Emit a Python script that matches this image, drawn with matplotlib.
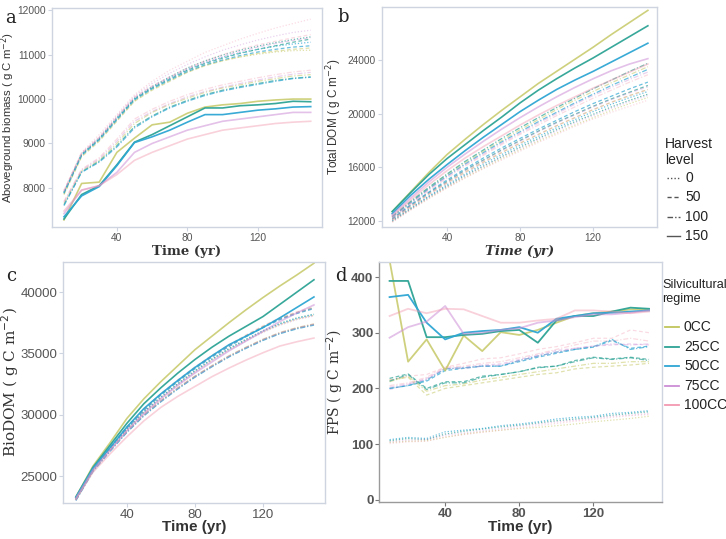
import matplotlib
matplotlib.use("Agg")
import matplotlib.pyplot as plt
from matplotlib.lines import Line2D

# ---------------- data ----------------
time = [10, 20, 30, 40, 50, 60, 70, 80, 90, 100, 110, 120, 130, 140, 150]
regimes = ["0CC", "25CC", "50CC", "75CC", "100CC"]
harvest_levels = ["0", "50", "100", "150"]

# Panel a: Aboveground biomass (rows: 0CC, 25CC, 50CC, 75CC, 100CC)
agb_h0 = [
    [7860, 8720, 9080, 9520, 9960, 10220, 10420, 10610, 10760, 10870, 10950, 11010, 11060, 11090, 11100],
    [7900, 8760, 9120, 9580, 10020, 10280, 10500, 10700, 10860, 10990, 11100, 11190, 11270, 11340, 11400],
    [7880, 8740, 9100, 9560, 10000, 10260, 10470, 10660, 10820, 10940, 11040, 11120, 11190, 11240, 11280],
    [7930, 8780, 9150, 9620, 10070, 10350, 10580, 10780, 10950, 11100, 11220, 11330, 11420, 11500, 11550],
    [7950, 8800, 9200, 9650, 10100, 10400, 10650, 10850, 11050, 11200, 11350, 11480, 11600, 11700, 11800],
]
agb_h50 = [
    [7850, 8700, 9050, 9500, 9950, 10200, 10400, 10600, 10750, 10860, 10950, 11030, 11080, 11120, 11150],
    [7900, 8750, 9100, 9550, 10000, 10250, 10450, 10650, 10800, 10920, 11030, 11120, 11200, 11280, 11350],
    [7880, 8730, 9080, 9530, 9980, 10230, 10430, 10620, 10770, 10880, 10980, 11060, 11120, 11170, 11200],
    [7920, 8770, 9120, 9580, 10030, 10280, 10480, 10680, 10830, 10960, 11070, 11170, 11250, 11320, 11380],
    [7940, 8790, 9140, 9600, 10050, 10300, 10500, 10700, 10860, 11000, 11120, 11220, 11300, 11380, 11450],
]
agb_h100 = [
    [7650, 8380, 8620, 9000, 9450, 9700, 9880, 10020, 10150, 10250, 10320, 10400, 10460, 10520, 10550],
    [7620, 8360, 8600, 8950, 9380, 9620, 9820, 9970, 10100, 10200, 10280, 10350, 10420, 10470, 10500],
    [7600, 8350, 8580, 8920, 9350, 9600, 9800, 9950, 10080, 10180, 10260, 10330, 10400, 10460, 10490],
    [7680, 8400, 8650, 9050, 9500, 9720, 9900, 10050, 10170, 10270, 10350, 10430, 10500, 10560, 10600],
    [7700, 8420, 8680, 9100, 9550, 9770, 9950, 10100, 10220, 10320, 10400, 10480, 10550, 10610, 10650],
]
agb_h150 = [
    [7280, 8100, 8130, 8800, 9120, 9420, 9480, 9680, 9820, 9870, 9900, 9950, 9980, 10000, 10000],
    [7300, 7850, 8050, 8520, 9030, 9200, 9400, 9600, 9800, 9800, 9850, 9870, 9900, 9950, 9940],
    [7350, 7820, 8030, 8500, 9020, 9150, 9300, 9480, 9650, 9650, 9700, 9750, 9780, 9820, 9830],
    [7420, 7950, 8050, 8350, 8800, 9000, 9150, 9300, 9400, 9500, 9550, 9600, 9650, 9700, 9700],
    [7480, 7950, 8050, 8300, 8620, 8800, 8950, 9100, 9200, 9300, 9350, 9400, 9450, 9480, 9500],
]

# Panel b: Total DOM
dom_h0 = [
    [11950, 12850, 13700, 14500, 15250, 15950, 16650, 17300, 17950, 18550, 19150, 19700, 20250, 20750, 21200],
    [12000, 12900, 13800, 14600, 15400, 16100, 16800, 17500, 18150, 18800, 19400, 19950, 20500, 21000, 21450],
    [12050, 12950, 13850, 14700, 15500, 16250, 16950, 17650, 18300, 18950, 19550, 20150, 20700, 21200, 21650],
    [11950, 12850, 13750, 14550, 15350, 16050, 16750, 17400, 18050, 18700, 19300, 19850, 20400, 20900, 21350],
    [11900, 12800, 13650, 14450, 15200, 15900, 16550, 17200, 17850, 18450, 19050, 19600, 20100, 20550, 21000],
]
dom_h50 = [
    [12100, 13050, 14000, 14850, 15650, 16400, 17100, 17800, 18450, 19100, 19700, 20300, 20850, 21350, 21800],
    [12150, 13150, 14100, 14950, 15800, 16550, 17300, 18000, 18700, 19350, 19950, 20550, 21100, 21600, 22100],
    [12200, 13200, 14150, 15050, 15900, 16700, 17450, 18150, 18850, 19500, 20150, 20750, 21300, 21850, 22350],
    [12100, 13100, 14050, 14900, 15750, 16500, 17250, 17950, 18650, 19300, 19900, 20500, 21050, 21550, 22000],
    [12050, 13000, 13950, 14800, 15600, 16350, 17100, 17800, 18450, 19100, 19700, 20300, 20850, 21350, 21800],
]
dom_h100 = [
    [12300, 13400, 14450, 15450, 16350, 17200, 18000, 18800, 19550, 20300, 21000, 21650, 22300, 22900, 23500],
    [12350, 13450, 14500, 15500, 16450, 17300, 18150, 18950, 19700, 20450, 21150, 21850, 22500, 23150, 23750],
    [12300, 13350, 14400, 15350, 16250, 17100, 17900, 18650, 19400, 20100, 20800, 21450, 22100, 22700, 23300],
    [12250, 13300, 14350, 15300, 16200, 17000, 17800, 18550, 19300, 20000, 20700, 21350, 21950, 22550, 23100],
    [12200, 13250, 14250, 15200, 16100, 16900, 17700, 18450, 19150, 19850, 20500, 21150, 21750, 22350, 22900],
]
dom_h150 = [
    [12700, 14150, 15600, 16950, 18100, 19200, 20250, 21250, 22250, 23150, 24050, 24950, 25900, 26800, 27700],
    [12700, 14100, 15450, 16650, 17700, 18750, 19750, 20800, 21750, 22600, 23400, 24150, 24950, 25750, 26550],
    [12550, 13900, 15100, 16200, 17250, 18250, 19200, 20150, 21000, 21800, 22500, 23150, 23850, 24550, 25250],
    [12450, 13700, 14900, 16000, 17000, 17950, 18850, 19700, 20500, 21250, 21950, 22600, 23200, 23700, 24100],
    [12350, 13550, 14700, 15750, 16700, 17550, 18350, 19150, 19900, 20600, 21250, 21900, 22500, 23100, 23700],
]

# Panel c: BioDOM
bio_h0 = [
    [23150, 25500, 27200, 28800, 30200, 31400, 32500, 33500, 34450, 35300, 36050, 36750, 37350, 37800, 38100],
    [23100, 25500, 27250, 28850, 30250, 31450, 32550, 33600, 34550, 35400, 36150, 36850, 37450, 37900, 38200],
    [23050, 25450, 27200, 28800, 30200, 31400, 32500, 33550, 34500, 35350, 36100, 36800, 37400, 37850, 38150],
    [23000, 25400, 27100, 28700, 30100, 31300, 32400, 33450, 34400, 35250, 36000, 36700, 37300, 37750, 38050],
    [23100, 25450, 27150, 28750, 30150, 31350, 32450, 33500, 34450, 35300, 36050, 36750, 37350, 37800, 38100],
]
bio_h50 = [
    [23200, 25600, 27350, 29000, 30450, 31700, 32800, 33850, 34800, 35650, 36450, 37200, 37850, 38350, 38750],
    [23150, 25550, 27300, 28950, 30400, 31650, 32750, 33800, 34750, 35600, 36400, 37150, 37800, 38300, 38700],
    [23100, 25500, 27250, 28900, 30350, 31600, 32700, 33750, 34700, 35550, 36350, 37100, 37750, 38250, 38650],
    [23150, 25550, 27300, 28950, 30400, 31650, 32750, 33800, 34750, 35600, 36400, 37150, 37800, 38300, 38700],
    [23200, 25600, 27350, 29000, 30450, 31700, 32850, 33900, 34850, 35700, 36500, 37250, 37900, 38400, 38800],
]
bio_h100 = [
    [23100, 25450, 27100, 28650, 30000, 31150, 32200, 33150, 34000, 34800, 35500, 36150, 36700, 37100, 37400],
    [23050, 25400, 27050, 28600, 29950, 31100, 32150, 33100, 33950, 34750, 35450, 36100, 36650, 37050, 37350],
    [23000, 25350, 27000, 28550, 29900, 31050, 32100, 33050, 33900, 34700, 35400, 36050, 36600, 37000, 37300],
    [23050, 25400, 27050, 28600, 29950, 31100, 32150, 33100, 33950, 34750, 35450, 36100, 36650, 37050, 37350],
    [23100, 25450, 27100, 28650, 30000, 31150, 32200, 33150, 34000, 34800, 35500, 36150, 36700, 37100, 37400],
]
bio_h150 = [
    [23300, 25800, 27700, 29700, 31300, 32700, 34000, 35300, 36400, 37500, 38550, 39550, 40500, 41400, 42350],
    [23300, 25700, 27500, 29300, 30900, 32200, 33400, 34500, 35500, 36400, 37200, 38000, 39000, 40000, 41000],
    [23250, 25600, 27300, 29000, 30500, 31700, 32800, 33850, 34800, 35700, 36400, 37100, 37900, 38750, 39600],
    [23200, 25500, 27100, 28700, 30100, 31300, 32400, 33400, 34300, 35200, 36000, 36800, 37600, 38300, 38950],
    [23100, 25300, 26800, 28200, 29500, 30600, 31500, 32300, 33100, 33800, 34450, 35050, 35600, 35950, 36250],
]

# Panel d: FPS
fps_h0 = [
    [103, 105, 106, 112, 118, 122, 125, 128, 130, 133, 136, 140, 143, 146, 150],
    [106, 110, 108, 118, 123, 127, 131, 134, 138, 142, 145, 148, 152, 155, 158],
    [108, 112, 110, 122, 125, 128, 133, 136, 140, 145, 148, 150, 155, 157, 160],
    [104, 107, 108, 116, 120, 124, 128, 132, 136, 140, 143, 146, 150, 152, 155],
    [101, 104, 105, 113, 117, 121, 125, 129, 133, 137, 141, 144, 148, 151, 153],
]
fps_h50 = [
    [215, 220, 188, 200, 205, 210, 215, 220, 225, 228, 235, 238, 240, 242, 245],
    [218, 226, 200, 212, 212, 222, 225, 230, 238, 240, 250, 256, 253, 256, 252],
    [200, 205, 213, 232, 236, 240, 240, 248, 256, 263, 270, 274, 286, 272, 276],
    [198, 207, 218, 236, 238, 242, 244, 252, 260, 268, 272, 276, 278, 280, 278],
    [215, 222, 225, 238, 245, 253, 255, 262, 270, 275, 282, 290, 290, 305, 300],
]
fps_h100 = [
    [212, 222, 195, 205, 208, 215, 220, 225, 230, 235, 240, 245, 245, 248, 248],
    [213, 225, 198, 210, 210, 220, 225, 230, 237, 240, 248, 255, 252, 255, 250],
    [200, 205, 215, 235, 237, 240, 240, 250, 258, 265, 270, 275, 288, 270, 275],
    [202, 208, 216, 236, 236, 240, 242, 250, 258, 265, 272, 276, 280, 278, 280],
    [205, 210, 220, 238, 240, 245, 248, 255, 262, 270, 278, 285, 285, 290, 285],
]
fps_h150 = [
    [430, 248, 288, 232, 295, 267, 301, 296, 305, 318, 330, 335, 338, 342, 342],
    [393, 393, 292, 292, 296, 298, 303, 305, 282, 322, 330, 330, 338, 345, 343],
    [364, 368, 318, 288, 300, 303, 305, 310, 300, 325, 330, 335, 336, 338, 340],
    [291, 310, 320, 348, 298, 300, 305, 308, 318, 322, 328, 333, 333, 336, 340],
    [330, 343, 335, 343, 342, 330, 318, 318, 322, 325, 340, 340, 338, 335, 338],
]

# ---------------- style ----------------
plt.rcParams["font.family"] = ["Liberation Sans", "DejaVu Sans"]
colors = ["#c2c55c", "#2da395", "#2ea6d3", "#cc8ed6", "#f299b0"]
alphas_solid = [0.8, 0.95, 0.95, 0.55, 0.45]
alphas_other = [0.5, 0.7, 0.7, 0.4, 0.35]
styles = [(0, (1, 1.5)), (0, (3, 2)), (0, (4, 1.5, 1, 1.5)), "-"]
spine_col = "#cfd5e0"
tick_col = "#555555"
text_col = "#333333"

W, H = 726, 539
fig = plt.figure(figsize=(W / 100, H / 100), dpi=100)


def rect(l, t, r, b):
    return [l / W, 1 - b / H, (r - l) / W, (b - t) / H]


def fx(x):
    return x / W


def fy(y):
    return 1 - y / H


def draw_panel(ax, groups, xlim, ylim, yticks, tsize, lw_solid=1.2):
    for h, grp in enumerate(groups):
        for i, series in enumerate(grp):
            if h == 3:
                ax.plot(time, series, color=colors[i], ls=styles[h], lw=lw_solid,
                        alpha=alphas_solid[i])
            else:
                ax.plot(time, series, color=colors[i], ls=styles[h], lw=0.9,
                        alpha=alphas_other[i])
    ax.set_xlim(*xlim)
    ax.set_ylim(*ylim)
    ax.set_xticks([40, 80, 120])
    ax.set_yticks(yticks)
    for s in ax.spines.values():
        s.set_color(spine_col)
        s.set_linewidth(1.0)
    ax.tick_params(colors=spine_col, labelcolor=tick_col, labelsize=tsize,
                   length=3, width=0.8, pad=1.5)


# Panel a
ax_a = fig.add_axes(rect(52, 8, 322, 227))
draw_panel(ax_a, [agb_h0, agb_h50, agb_h100, agb_h150], (3.2, 156.4), (7120, 12050),
           [8000, 9000, 10000, 11000, 12000], 7.4)
ax_a.set_xlabel("Time (yr)", family="serif", fontweight="bold", fontsize=9.5,
                color=text_col)
ax_a.xaxis.set_label_coords(0.5, -0.082)
ax_a.set_ylabel("Aboveground biomass ( g C m$^{-2}$)", fontsize=8.2, color=text_col)
ax_a.yaxis.set_label_coords(-0.128, 0.5)

# Panel b
ax_b = fig.add_axes(rect(382, 7, 657, 227))
draw_panel(ax_b, [dom_h0, dom_h50, dom_h100, dom_h150], (4.4, 155), (11550, 27950),
           [12000, 16000, 20000, 24000], 7.3)
ax_b.set_xlabel("Time (yr)", family="serif", fontweight="bold", style="italic",
                fontsize=9.5, color=text_col)
ax_b.xaxis.set_label_coords(0.5, -0.082)
ax_b.set_ylabel("Total DOM ( g C m$^{-2}$)", fontsize=8.5, color=text_col)
ax_b.yaxis.set_label_coords(-0.14, 0.5)

# Panel c
ax_c = fig.add_axes(rect(63, 262, 325, 503))
draw_panel(ax_c, [bio_h0, bio_h50, bio_h100, bio_h150], (2.4, 156.5), (22800, 42450),
           [25000, 30000, 35000, 40000], 9.5)
ax_c.tick_params(pad=1)
ax_c.set_xlabel("Time (yr)", fontweight="bold", fontsize=11, color=text_col)
ax_c.xaxis.set_label_coords(0.5, -0.072)
ax_c.set_ylabel("BioDOM ( g C m$^{-2}$)", family="serif", fontsize=11, color=text_col)
ax_c.yaxis.set_label_coords(-0.16, 0.5)

# Panel d
ax_d = fig.add_axes(rect(379, 262, 662, 502))
draw_panel(ax_d, [fps_h0, fps_h50, fps_h100, fps_h150], (4.3, 157), (-4, 427),
           [0, 100, 200, 300, 400], 9.5, lw_solid=1.3)
ax_d.tick_params(pad=1)
ax_d.spines["left"].set_color("#9a9a9a")
ax_d.spines["bottom"].set_color("#9a9a9a")
ax_d.tick_params(colors="#777777", labelcolor=tick_col)
for lab in ax_d.get_xticklabels() + ax_d.get_yticklabels():
    lab.set_fontweight("bold")
ax_d.set_xlabel("Time (yr)", fontweight="bold", fontsize=11, color=text_col)
ax_d.xaxis.set_label_coords(0.5, -0.075)
ax_d.set_ylabel("FPS ( g C m$^{-2}$)", family="serif", fontsize=10, color=text_col)
ax_d.yaxis.set_label_coords(-0.117, 0.5)

# Panel letters
for letter, (px, py) in zip("abcd", [(11, 18), (343, 17), (11, 276), (341, 276)]):
    fig.text(fx(px), fy(py), letter, family="serif", fontsize=13, ha="center",
             va="center", color="#222222")

# Harvest level legend
fig.text(fx(665), fy(152), "Harvest\nlevel", fontsize=10, ha="left", va="center",
         color="#222222", linespacing=1.1)
for k, (lab, yy) in enumerate(zip(harvest_levels, [178, 197, 217, 236])):
    fig.add_artist(Line2D([fx(667), fx(680)], [fy(yy), fy(yy)], transform=fig.transFigure,
                          color="#555555", ls=styles[k], lw=1.0))
    fig.text(fx(685), fy(yy), lab, fontsize=10, ha="left", va="center", color="#222222")

# Silvicultural regime legend
fig.text(fx(662), fy(292), "Silvicultural\nregime", fontsize=9.1, ha="left", va="center",
         color="#222222", linespacing=1.15)
for k, (lab, yy) in enumerate(zip(regimes, [327, 347, 366, 386, 405])):
    fig.add_artist(Line2D([fx(665), fx(679)], [fy(yy), fy(yy)], transform=fig.transFigure,
                          color=colors[k], lw=1.3))
    fig.text(fx(684), fy(yy), lab, fontsize=10, ha="left", va="center", color="#222222")

fig.savefig("out.png", dpi=100)
